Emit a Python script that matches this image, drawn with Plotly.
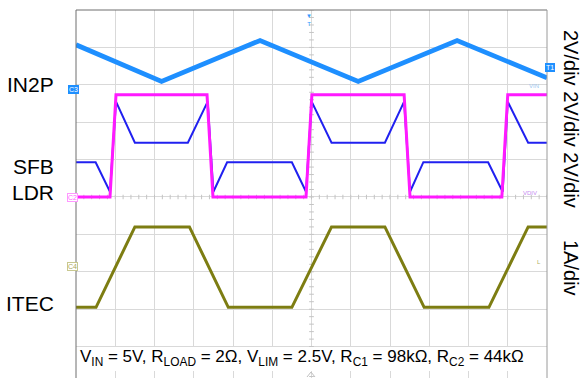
import plotly.graph_objects as go

# Zeitachse in Divisionen (12 div), Werte in Kanal-Einheiten
t_in2p = [0, 2.18, 4.69, 7.19, 9.71, 12.0]
v_in2p = [2.14, 0.18, 2.37, 0.18, 2.37, 0.37]

t_ldr = [0, 0.866, 1.019, 3.338, 3.49, 5.86, 6.01, 8.36, 8.51, 10.85, 11.0, 12.0]
v_ldr = [0, 0, 5.47, 5.47, 0, 0, 5.47, 5.47, 0, 0, 5.47, 5.47]

t_sfb = [0, 0.50, 0.866, 1.019, 1.50, 2.85, 3.355, 3.50, 3.85, 5.50, 5.86, 6.005,
         6.51, 7.87, 8.36, 8.51, 8.85, 10.50, 10.87, 11.0, 11.52, 12.0]
v_sfb = [1.86, 1.86, 0.28, 5.10, 2.90, 2.90, 5.10, 0.28, 1.86, 1.86, 0.28, 5.10,
         2.90, 2.90, 5.10, 0.28, 1.86, 1.86, 0.28, 5.10, 2.90, 2.90]

t_itec = [0, 0.51, 1.50, 2.89, 3.88, 5.50, 6.51, 7.87, 8.87, 10.52, 11.52, 12.0]
i_itec = [-0.95, -0.95, 1.20, 1.20, -0.95, -0.95, 1.20, 1.20, -0.95, -0.95, 1.20, 1.20]

# Kanal-Offsets (div von oben) und Skalen
H = 9.84  # sichtbare Divisionen (Plot 10..378 px)
def ch_range(offset_div, per_div):
    return [-(H - offset_div) * per_div, offset_div * per_div]

# Pixel -> paper (Plotfläche 76..547 x 10..378)
PH = 368
def px(x):
    return (x - 76) / 471
def py(y):
    return 1 - (y - 10) / PH

fig = go.Figure()

# Mittellinien-Ticks
tx, ty = [], []
k = 0
while k <= 60:
    x = k * 0.2
    tx += [x, x, None]
    ty += [4.94, 5.06, None]
    k += 1
k = 0
while k <= 49:
    y = k * 0.2
    tx += [5.94, 6.06, None]
    ty += [y, y, None]
    k += 1
fig.add_trace(go.Scatter(x=tx, y=ty, mode="lines", line=dict(color="#c4c4c4", width=1),
                         hoverinfo="skip", yaxis="y"))

fig.add_trace(go.Scatter(x=t_in2p, y=v_in2p, mode="lines", line=dict(color="#1e8fff", width=4.8),
                         yaxis="y2", name="IN2P"))
fig.add_trace(go.Scatter(x=t_itec, y=i_itec, mode="lines", line=dict(color="#7d7d12", width=3),
                         yaxis="y4", name="ITEC"))
fig.add_trace(go.Scatter(x=t_sfb, y=v_sfb, mode="lines", line=dict(color="#2020f0", width=2),
                         yaxis="y3", name="SFB"))
fig.add_trace(go.Scatter(x=t_ldr, y=v_ldr, mode="lines", line=dict(color="#ff1aff", width=3),
                         yaxis="y5", name="LDR"))

grid = "#d9d9d9"
fig.update_layout(
    width=584, height=378,
    margin=dict(l=76, r=37, t=10, b=0),
    paper_bgcolor="white", plot_bgcolor="white",
    showlegend=False, hovermode=False,
    font=dict(family="Liberation Sans, Arial", color="black"),
    xaxis=dict(range=[0, 12], dtick=1, showgrid=True, gridcolor=grid, zeroline=False,
               showticklabels=False, ticks=""),
    yaxis=dict(range=[H, 0], dtick=1, showgrid=True, gridcolor=grid, zeroline=False,
               showticklabels=False, ticks=""),
    yaxis2=dict(range=ch_range(2, 2), overlaying="y", visible=False),
    yaxis3=dict(range=ch_range(5, 2), overlaying="y", visible=False),
    yaxis4=dict(range=ch_range(7, 1), overlaying="y", visible=False),
    yaxis5=dict(range=ch_range(5, 2), overlaying="y", visible=False),
)

# Rahmen
frame = "#6e6e6e"
fig.add_shape(type="line", xref="paper", yref="paper", x0=0, x1=0, y0=0, y1=1, line=dict(color=frame, width=1))
fig.add_shape(type="line", xref="paper", yref="paper", x0=0, x1=1, y0=1, y1=1, line=dict(color=frame, width=1))
fig.add_shape(type="line", xref="paper", yref="paper", x0=1, x1=1, y0=0, y1=1, line=dict(color="#9a9a9a", width=1))

# Textfeld unten
fig.add_shape(type="rect", xref="paper", yref="paper", x0=px(77), x1=px(545), y0=py(347), y1=py(371),
              fillcolor="white", line=dict(width=0))
fig.add_annotation(x=px(78), y=py(358), xref="paper", yref="paper", xanchor="left", yanchor="middle",
                   showarrow=False,
                   text="V<sub>IN</sub> = 5V, R<sub>LOAD</sub> = 2Ω, V<sub>LIM</sub> = 2.5V, "
                        "R<sub>C1</sub> = 98kΩ, R<sub>C2</sub> = 44kΩ",
                   font=dict(size=17))

# Kanalnamen links
for txt, ypx in [("IN2P", 84), ("SFB", 167), ("LDR", 192), ("ITEC", 303)]:
    fig.add_annotation(x=px(56), y=py(ypx), xref="paper", yref="paper", showarrow=False, text=txt,
                       font=dict(size=21), xanchor="right", yanchor="middle")

# Skalen rechts (gedreht)
fig.add_annotation(x=px(571), y=py(119), xref="paper", yref="paper", showarrow=False,
                   xanchor="center", yanchor="middle",
                   text="2V/div 2V/div 2V/div", textangle=90, font=dict(size=20))
fig.add_annotation(x=px(571), y=py(268), xref="paper", yref="paper", showarrow=False,
                   xanchor="center", yanchor="middle",
                   text="1A/div", textangle=90, font=dict(size=20))

# Kanal-Marker
def tag(xp, yp, txt, fg, bg, border):
    fig.add_annotation(x=px(xp), y=py(yp), xref="paper", yref="paper", showarrow=False, text=txt,
                       font=dict(size=7, color=fg), bgcolor=bg, bordercolor=border,
                       borderwidth=1, borderpad=0)

tag(68, 85, "C3", "white", "#1e8fff", "#1e8fff")
tag(67, 197, "C2", "#ff66ff", "white", "#ff99ff")
tag(67, 271, "C4", "#a8a860", "white", "#c8c890")
tag(555, 63, "T1", "white", "#1e8fff", "#1e8fff")

fig.add_annotation(x=px(541), y=py(81), xref="paper", yref="paper", showarrow=False,
                   text="VIN", font=dict(size=6, color="#9cc8f0"))
fig.add_annotation(x=px(539), y=py(193), xref="paper", yref="paper", showarrow=False,
                   text="VDIV", font=dict(size=6, color="#c58cf0"))
fig.add_annotation(x=px(543), y=py(267), xref="paper", yref="paper", showarrow=False,
                   text="L", font=dict(size=6, color="#b0b060"))
fig.add_annotation(x=px(309), y=py(11), xref="paper", yref="paper", showarrow=False, yanchor="top",
                   text="▼<br>T", font=dict(size=6, color="#3399ff"))
# kleiner Zeit-Marker unten
fig.add_shape(type="path", xref="paper", yref="paper",
              path=f"M {px(307)},{py(377)} L {px(311)},{py(372)} L {px(315)},{py(377)}",
              line=dict(color="#c0c0c0", width=1))

# Body-Rand und Scrollbalken entfernen, damit die Figur exakt im Fenster liegt
fig.write_html("out.html", config={"displayModeBar": False},
               post_script="document.body.style.margin='0';document.body.style.overflow='hidden';")
